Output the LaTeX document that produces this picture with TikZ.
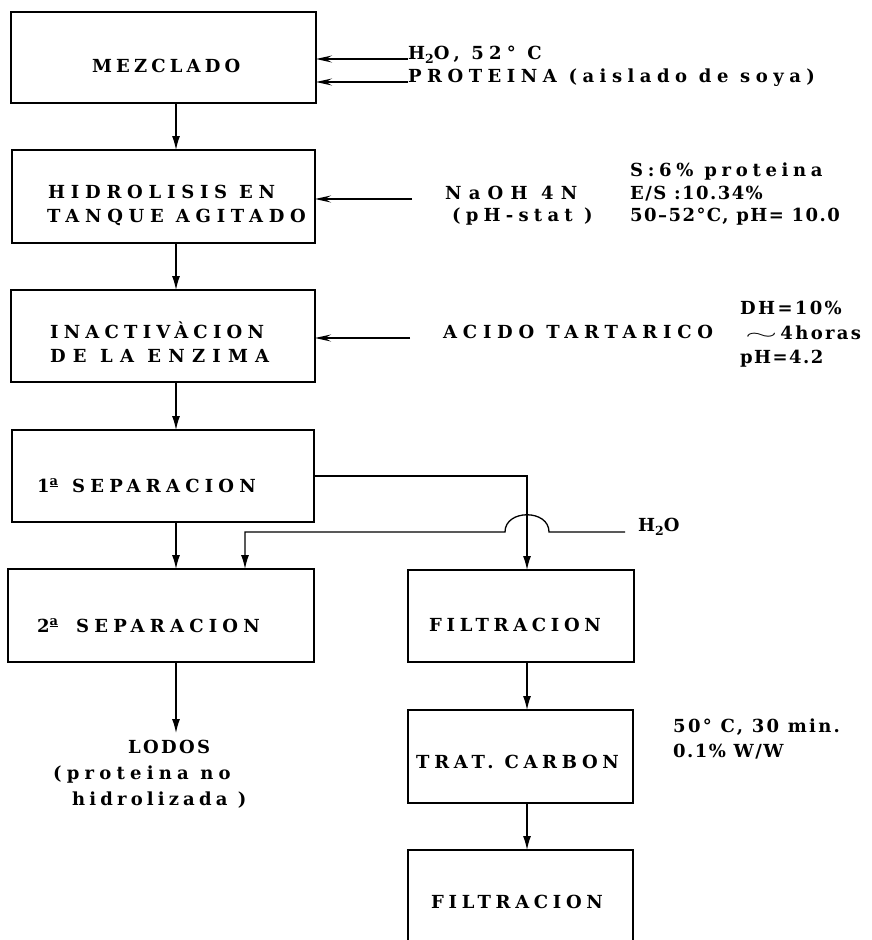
\documentclass[tikz,border=0pt]{standalone}
\usepackage{fontspec}
\setmainfont{DejaVu Serif}
\newfontfamily\lsa{DejaVu Serif}[LetterSpace=8]
\newfontfamily\lsb{DejaVu Serif}[LetterSpace=13]
\newfontfamily\lsc{DejaVu Serif}[LetterSpace=23]
\newfontfamily\lsd{DejaVu Serif}[LetterSpace=26]
\newfontfamily\lse{DejaVu Serif}[LetterSpace=29]
\newfontfamily\lsi{DejaVu Serif}[LetterSpace=30.5]
\newfontfamily\lsf{DejaVu Serif}[LetterSpace=32]
\newfontfamily\lsg{DejaVu Serif}[LetterSpace=40]
\usetikzlibrary{arrows.meta}
\newcommand{\subtwo}{\raisebox{-4pt}{\fontsize{12.5}{12.5}\selectfont 2}}
\newcommand{\ordA}{\raisebox{7pt}{\fontsize{13}{13}\selectfont\underline{a}}}
\newcommand{\wave}{\smash{\scalebox{2.4}[1]{$\sim$}}\hspace{3pt}}
\begin{document}
\begin{tikzpicture}[x=1pt,y=-1pt,
  font=\fontsize{18}{22}\selectfont\bfseries,
  box/.style={draw, line width=1.6pt, inner sep=0pt, outer sep=0pt},
  txt/.style={inner sep=0pt, anchor=base west},
  arr/.style={line width=1.3pt, -{Latex[length=14pt,width=8pt]}},
  inarr/.style={line width=1.3pt, -{Stealth[length=16pt,width=7pt,inset=6pt]}}]
\useasboundingbox (0,0) rectangle (871,940);
\fill[white] (0,0) rectangle (871,940);
\clip (0,0) rectangle (871,940);

% columns
\coordinate (cA) at (176,0);
\coordinate (cB) at (527,0);
\coordinate (cC) at (245,0);

% boxes
\node[box, minimum width=305pt, minimum height=91pt] (mez) at (163.5,57.5) {};
\node[box, minimum width=303pt, minimum height=93pt] (hid) at (163.5,196.5) {};
\node[box, minimum width=304pt, minimum height=92pt] (ina) at (163,336) {};
\node[box, minimum width=302pt, minimum height=92pt] (sep1) at (163,476) {};
\node[box, minimum width=306pt, minimum height=93pt] (sep2) at (161,615.5) {};
\node[box, minimum width=226pt, minimum height=92pt] (fil1) at (521,616) {};
\node[box, minimum width=225pt, minimum height=93pt] (trat) at (520.5,756.5) {};
\node[box, minimum width=225pt, minimum height=104pt] (fil2) at (520.5,902) {};

% box texts
\node[txt] (tmez) at (92,72) {\lsc MEZCLADO};
\node[txt] (thid1) at (48,198) {\lsf HIDROLISIS EN};
\node[txt] (thid2) at (47,222) {\lsf TANQUE AGITADO};
\node[txt] (tina1) at (50,338) {\lse INACTIVÀCION};
\node[txt] (tina2) at (50,362) {\lsg DE LA ENZIMA};
\node[txt] (tsep1) at (37,492) {\lse 1\ordA\hspace{14pt}SEPARACION};
\node[txt] (tsep2) at (37,632) {\lse 2\ordA\hspace{18pt}SEPARACION};
\node[txt] (tfil1) at (429,631) {\lsd FILTRACION};
\node[txt] (ttrat) at (416,768) {\lsd TRAT. CARBON};
\node[txt] (tfil2) at (431,908) {\lsd FILTRACION};

% side texts
\node[txt] (in1) at (408,59) {\lse H\subtwo O, 52° C};
\node[txt] (in2) at (408,82) {\lsi PROTEINA (aislado de soya)};
\node[txt] (naoh) at (445,199) {\lsg NaOH 4N};
\node[txt] (phst) at (452,221) {\lse (pH-stat )};
\node[txt] (c1) at (630,176) {\lsd S:6\% proteina};
\node[txt] (c2) at (630,199) {\lsa E/S :10.34\%};
\node[txt] (c3) at (630,221) {\lsa 50–52°C, pH= 10.0};
\node[txt] (acid) at (443,338) {\lsf ACIDO TARTARICO};
\node[txt] (d1) at (740,314) {\lsb DH=10\%};
\node[txt] (d2) at (745,339) {\wave\lsb 4horas};
\node[txt] (d3) at (740,363) {\lsa pH=4.2};
\node[txt] (h2o) at (638,531) {\lsa H\subtwo O};
\node[txt] (tc1) at (673,732) {\lsb 50° C, 30 min.};
\node[txt] (tc2) at (673,757) {\lsa 0.1\% W/W};
\node[txt] (lod1) at (128,753) {\lsb LODOS};
\node[txt] (lod2) at (53,779) {\lse (proteina no};
\node[txt] (lod3) at (72,805) {\lsc hidrolizada )};

% input arrows
\coordinate (inNa) at (412,199);
\coordinate (inAc) at (410,338);
\draw[inarr] (in1.base west) -- (in1.base west -| mez.east);
\draw[inarr] (in2.base west) -- (in2.base west -| mez.east);
\draw[inarr] (inNa) -- (inNa -| hid.east);
\draw[inarr] (inAc) -- (inAc -| ina.east);

% main flow
\draw[arr] (mez.south -| cA) -- (hid.north -| cA);
\draw[arr] (hid.south -| cA) -- (ina.north -| cA);
\draw[arr] (ina.south -| cA) -- (sep1.north -| cA);
\draw[arr] (sep1.south -| cA) -- (sep2.north -| cA);
\coordinate (lodTop) at (176,733);
\draw[arr] (sep2.south -| cA) -- (lodTop);
\draw[arr] (sep1.east) -| (fil1.north -| cB);
\draw[arr] (fil1.south -| cB) -- (trat.north -| cB);
\draw[arr] (trat.south -| cB) -- (fil2.north -| cB);

% water line with crossing bump
\coordinate (hw) at (625,532);
\coordinate (bumpR) at (549,532);
\coordinate (bumpL) at (505,532);
\draw[arr] (hw) -- (bumpR) .. controls (549,509) and (505,509) .. (bumpL) -| (sep2.north -| cC);
\end{tikzpicture}
\end{document}
